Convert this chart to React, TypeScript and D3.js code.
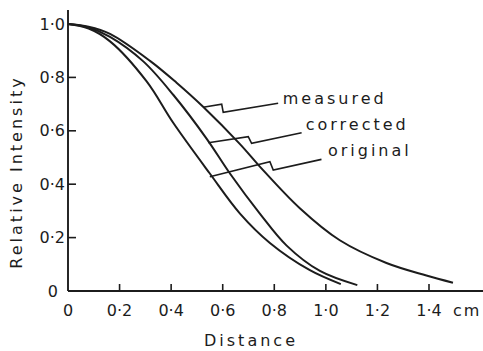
import React from "react";
import * as d3 from "d3";

// distance (cm) vs relative intensity
const measured: [number, number][] = [
  [0, 1.0], [0.08, 0.99], [0.163, 0.963], [0.318, 0.862], [0.421, 0.78],
  [0.524, 0.69], [0.667, 0.55], [0.744, 0.466], [0.899, 0.31],
  [1.054, 0.19], [1.235, 0.105], [1.39, 0.058], [1.493, 0.031],
];
const corrected: [number, number][] = [
  [0, 1.0], [0.08, 0.987], [0.163, 0.952], [0.292, 0.86], [0.408, 0.735],
  [0.538, 0.57], [0.628, 0.44], [0.744, 0.29], [0.848, 0.17],
  [0.977, 0.075], [1.122, 0.022],
];
const original: [number, number][] = [
  [0, 1.0], [0.08, 0.983], [0.163, 0.935], [0.305, 0.785], [0.408, 0.63],
  [0.55, 0.44], [0.667, 0.29], [0.783, 0.18], [0.938, 0.078],
  [1.058, 0.026],
];

const xTicks = [0.2, 0.4, 0.6, 0.8, 1.0, 1.2, 1.4];
const yTicks = [0.2, 0.4, 0.6, 0.8];
const xTickLabels = ["0·2", "0·4", "0·6", "0·8", "1·0", "1·2", "1·4"];
const yTickLabels = ["0", "0·2", "0·4", "0·6", "0·8", "1·0"];

// zigzag leader lines from curve to label (data units)
const labels = [
  { text: "measured", at: [0.833, 0.701], leader: [[0.524, 0.688], [0.596, 0.7], [0.602, 0.669], [0.815, 0.703]] },
  { text: "corrected", at: [0.922, 0.603], leader: [[0.544, 0.555], [0.699, 0.578], [0.712, 0.553], [0.906, 0.593]] },
  { text: "original", at: [1.008, 0.506], leader: [[0.55, 0.428], [0.783, 0.484], [0.796, 0.453], [0.983, 0.493]] },
];

const width = 483;
const height = 351;
const ink = "#1c1c1c";
const font = "DejaVu Sans, sans-serif";

export default function App() {
  const x = d3.scaleLinear().domain([0, 1.4]).range([68, 429]);
  const y = d3.scaleLinear().domain([0, 1]).range([291, 24]);

  const line = d3
    .line<[number, number]>()
    .x((d) => x(d[0]))
    .y((d) => y(d[1]))
    .curve(d3.curveCatmullRom.alpha(0.5));

  const leader = d3
    .line<number[]>()
    .x((d) => x(d[0]))
    .y((d) => y(d[1]));

  return (
    <svg
      width={width}
      height={height}
      style={{ position: "absolute", left: 0, top: 0, background: "#fff" }}
    >
      {/* axes */}
      <line x1={x(0)} x2={x(0)} y1={10} y2={y(0)} stroke={ink} strokeWidth={1.9} />
      <line x1={x(0)} x2={width} y1={y(0)} y2={y(0)} stroke={ink} strokeWidth={1.9} />
      {xTicks.map((t) => (
        <line key={t} x1={x(t)} x2={x(t)} y1={y(0)} y2={y(0) - 7} stroke={ink} strokeWidth={1.6} />
      ))}
      {yTicks.map((t) => (
        <line key={t} x1={x(0)} x2={x(0) + 8} y1={y(t)} y2={y(t)} stroke={ink} strokeWidth={1.6} />
      ))}

      <g fontFamily={font} fontSize={16} fill={ink}>
        {xTickLabels.map((s, i) => (
          <text key={s} x={x(xTicks[i])} y={310} textAnchor="middle" dominantBaseline="central">
            {s}
          </text>
        ))}
        <text x={x(0)} y={310} textAnchor="middle" dominantBaseline="central">0</text>
        <text x={453} y={310} dominantBaseline="central" letterSpacing={2}>cm</text>
        {yTickLabels.map((s, i) => (
          <text
            key={s}
            x={i === 0 ? 58 : 65}
            y={y(i * 0.2)}
            textAnchor="end"
            dominantBaseline="central"
          >
            {s}
          </text>
        ))}
        <text x={251} y={340} textAnchor="middle" dominantBaseline="central" letterSpacing={3}>
          Distance
        </text>
        <text
          transform={`translate(16,172) rotate(-90)`}
          textAnchor="middle"
          dominantBaseline="central"
          letterSpacing={3}
        >
          Relative Intensity
        </text>
        {labels.map((l) => (
          <text key={l.text} x={x(l.at[0])} y={y(l.at[1])} letterSpacing={3}>
            {l.text}
          </text>
        ))}
      </g>

      {/* curves */}
      {[measured, corrected, original].map((s, i) => (
        <path key={i} d={line(s) ?? ""} fill="none" stroke={ink} strokeWidth={2} />
      ))}
      {labels.map((l) => (
        <path key={l.text} d={leader(l.leader) ?? ""} fill="none" stroke={ink} strokeWidth={1.6} />
      ))}
    </svg>
  );
}
